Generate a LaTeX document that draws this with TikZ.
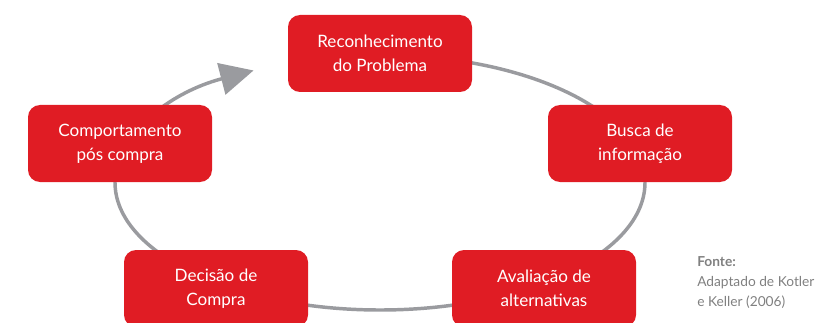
\documentclass[tikz,border=0pt]{standalone}
\usepackage{fontspec}
\setmainfont{Lato}
\usetikzlibrary{arrows.meta}
\definecolor{boxred}{RGB}{224,28,36}
\definecolor{cyclegray}{RGB}{154,155,159}
\definecolor{srcgray}{RGB}{128,128,128}
\begin{document}
\begin{tikzpicture}[x=0.75pt,y=0.75pt,
  stage/.style={fill=boxred, rounded corners=9pt, minimum width=138pt, minimum height=57.75pt,
    text=white, align=center, font=\fontsize{12.8}{18}\selectfont, inner sep=0pt},
  cyclepath/.style={draw=cyclegray, line width=2.6pt, -{Triangle[length=25pt,width=24pt]}},
  srctext/.style={anchor=north west, align=left, text=srcgray, font=\fontsize{10.3}{15}\selectfont, inner sep=0pt}]
\useasboundingbox (0,0) rectangle (818,322);
\clip (0,0) rectangle (818,322);
\coordinate (ctr) at (380,139.5);
\draw[cyclepath] ([yshift=95.625pt]ctr) arc[start angle=90, end angle=-241.5, x radius=198.75pt, y radius=95.625pt];
\node[stage] (reco) at (380,268.5) {Reconhecimento\\do Problema};
\node[stage] (busca) at (640,178.5) {Busca de\\informação};
\node[stage] (aval) at (544,33.5) {Avaliação de\\alternativas};
\node[stage] (deci) at (216,33.5) {Decisão de\\Compra};
\node[stage] (comp) at (120,178.5) {Comportamento\\pós compra};
\node[srctext] (src) at (697,66) {\textbf{Fonte:}\\Adaptado de Kotler\\e Keller (2006)};
\end{tikzpicture}
\end{document}
